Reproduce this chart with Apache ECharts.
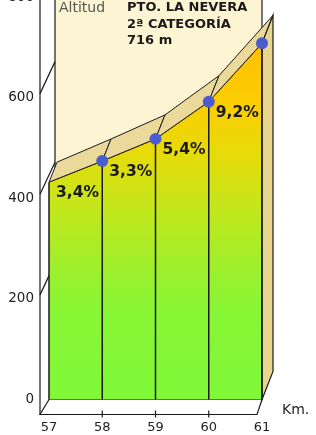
<!DOCTYPE html>
<html><head><meta charset="utf-8">
<script src="https://cdn.jsdelivr.net/npm/echarts@6/dist/echarts.min.js"></script>
<style>html,body{margin:0;padding:0;background:#fff;}#c{width:316px;height:435px;}</style>
</head><body><div id="c"></div>
<script>
// ---- data ----
const km = [57, 58, 59, 60, 61];
const altitude = [432, 474, 518, 592, 708];
const grades = ['3,4%', '3,3%', '5,4%', '9,2%'];
const yTicks = [0, 200, 400, 600, 800];
const titleLines = ['PTO. LA NEVERA', '2ª CATEGORÍA', '716 m'];
const yName = 'Altitud';
const xName = 'Km.';

const FONT = 'DejaVu Sans';
const INK = '#1a1a1a';
const chart = echarts.init(document.getElementById('c'), null, {renderer: 'canvas'});

// 3D depth offset (pixels) – grows slightly to the right (perspective look)
function depth(x, x0, x1) {
  const t = (x - x0) / (x1 - x0);
  return [8 + 3 * t, -20 - 8 * t];
}
const lineStyle = {stroke: INK, lineWidth: 1.2};

function renderBackdrop(params, api) {
  const p0 = api.coord([km[0], 0]);
  const p1 = api.coord([km[km.length - 1], 0]);
  const axisX = p0[0] - 9;
  const wallX = p0[0] + 6;
  const ch = [];
  ch.push({type: 'rect', shape: {x: wallX, y: 0, width: p1[0] - wallX, height: p0[1]}, style: {fill: '#fcf4d2'}});
  ch.push({type: 'line', shape: {x1: axisX, y1: 0, x2: axisX, y2: p0[1] + 15}, style: lineStyle});
  ch.push({type: 'line', shape: {x1: wallX, y1: 0, x2: wallX, y2: p0[1]}, style: lineStyle});
  ch.push({type: 'line', shape: {x1: p1[0], y1: 0, x2: p1[0], y2: 80}, style: lineStyle});
  yTicks.forEach(v => {
    if (v === 0) return;
    const y = api.coord([km[0], v])[1];
    ch.push({type: 'line', shape: {x1: axisX, y1: y - 4, x2: wallX, y2: y - 36}, style: lineStyle});
  });
  ch.push({type: 'polygon', shape: {points: [[axisX, p0[1] + 15], [p1[0] - 5, p0[1] + 15], [p1[0], p0[1]], [p0[0], p0[1]]]},
    style: {fill: '#ffffff', stroke: INK, lineWidth: 1.2}});
  km.slice(1, -1).forEach(k => {
    const x = api.coord([k, 0])[0];
    ch.push({type: 'line', shape: {x1: x, y1: p0[1] + 11, x2: x, y2: p0[1] + 18}, style: lineStyle});
  });
  return {type: 'group', children: ch};
}

function renderBand(params, api) {
  const a = api.coord([api.value(0), api.value(1)]);
  const b = api.coord([api.value(2), api.value(3)]);
  const x0 = api.coord([km[0], 0])[0], x1 = api.coord([km[km.length - 1], 0])[0];
  const da = depth(a[0], x0, x1), db = depth(b[0], x0, x1);
  return {type: 'polygon', shape: {points: [a, b, [b[0] + db[0], b[1] + db[1]], [a[0] + da[0], a[1] + da[1]]]},
    style: {fill: '#ead99a', stroke: INK, lineWidth: 1}};
}

function renderEdges(params, api) {
  const p = api.coord([api.value(0), api.value(1)]);
  const base = api.coord([api.value(0), 0]);
  const ch = [];
  if (params.dataIndex === km.length - 1) {
    const x0 = api.coord([km[0], 0])[0];
    const d = depth(p[0], x0, p[0]);
    ch.push({type: 'polygon', shape: {points: [base, p, [p[0] + d[0], p[1] + d[1]], [base[0] + d[0], base[1] + d[1]]]},
      style: {fill: '#e8d68e', stroke: INK, lineWidth: 1.2}});
  }
  ch.push({type: 'line', shape: {x1: p[0], y1: p[1], x2: base[0], y2: base[1]}, style: {stroke: INK, lineWidth: 1.5}});
  return {type: 'group', children: ch};
}

function renderGrade(params, api) {
  const p = api.coord([api.value(0), api.value(1)]);
  return {type: 'text', x: p[0] + 7, y: p[1] + 11,
    style: {text: grades[params.dataIndex], font: 'bold 15.5px "DejaVu Sans"', fill: INK, verticalAlign: 'middle', align: 'left'}};
}

const profile = km.map((k, i) => [k, altitude[i]]);
const segments = km.slice(0, -1).map((k, i) => [k, altitude[i], km[i + 1], altitude[i + 1]]);
const dots = km.slice(1).map((k, i) => [k, altitude[i + 1]]);
const gradePts = km.slice(0, -1).map((k, i) => [k, altitude[i]]);

const option = {
  animation: false,
  grid: {left: 49, right: 54, top: -3, bottom: 35.5, containLabel: false, outerBoundsMode: 'none'},
  xAxis: {type: 'value', min: km[0], max: km[km.length - 1], interval: 1,
    axisLine: {show: false}, axisTick: {show: false}, splitLine: {show: false},
    axisLabel: {margin: 22, fontFamily: FONT, fontSize: 13, color: '#222'}},
  yAxis: {type: 'value', min: yTicks[0], max: yTicks[yTicks.length - 1], interval: 200,
    axisLine: {show: false}, axisTick: {show: false}, splitLine: {show: false},
    axisLabel: {margin: 15, fontFamily: FONT, fontSize: 13.5, color: '#222'}},
  graphic: [
    {type: 'text', x: 59, y: 8, z: 10, style: {text: yName, font: '14px "DejaVu Sans"', fill: '#555', verticalAlign: 'middle'}},
    {type: 'text', x: 127, y: 8, z: 10, style: {text: titleLines[0], font: 'bold 13px "DejaVu Sans"', fill: INK, verticalAlign: 'middle'}},
    {type: 'text', x: 127, y: 24.5, z: 10, style: {text: titleLines[1], font: 'bold 13px "DejaVu Sans"', fill: INK, verticalAlign: 'middle'}},
    {type: 'text', x: 127, y: 41, z: 10, style: {text: titleLines[2], font: 'bold 13px "DejaVu Sans"', fill: INK, verticalAlign: 'middle'}},
    {type: 'text', x: 282, y: 410, z: 10, style: {text: xName, font: '14px "DejaVu Sans"', fill: '#222', verticalAlign: 'middle'}}
  ],
  series: [
    {type: 'custom', z: 1, data: [[km[0], 0]], renderItem: renderBackdrop, silent: true},
    {type: 'line', z: 2, data: profile, symbol: 'none', lineStyle: {color: INK, width: 1},
      areaStyle: {opacity: 1, color: new echarts.graphic.LinearGradient(0, 0, 0, 1, [
        {offset: 0, color: '#ffc000'}, {offset: 0.16, color: '#fccc00'}, {offset: 0.3, color: '#e8da08'},
        {offset: 0.45, color: '#c6e61a'}, {offset: 0.6, color: '#a4ee2a'}, {offset: 0.75, color: '#88f634'},
        {offset: 1, color: '#80f838'}])}},
    {type: 'custom', z: 3, data: segments, encode: {x: [0, 2], y: [1, 3]}, renderItem: renderBand, silent: true},
    {type: 'custom', z: 3, data: profile, encode: {x: 0, y: 1}, renderItem: renderEdges, silent: true},
    {type: 'scatter', z: 4, data: dots, symbolSize: 12, itemStyle: {color: '#4a5cd0', opacity: 1}},
    {type: 'custom', z: 5, data: gradePts, encode: {x: 0, y: 1}, renderItem: renderGrade, silent: true}
  ]
};
chart.setOption(option);
</script></body></html>
